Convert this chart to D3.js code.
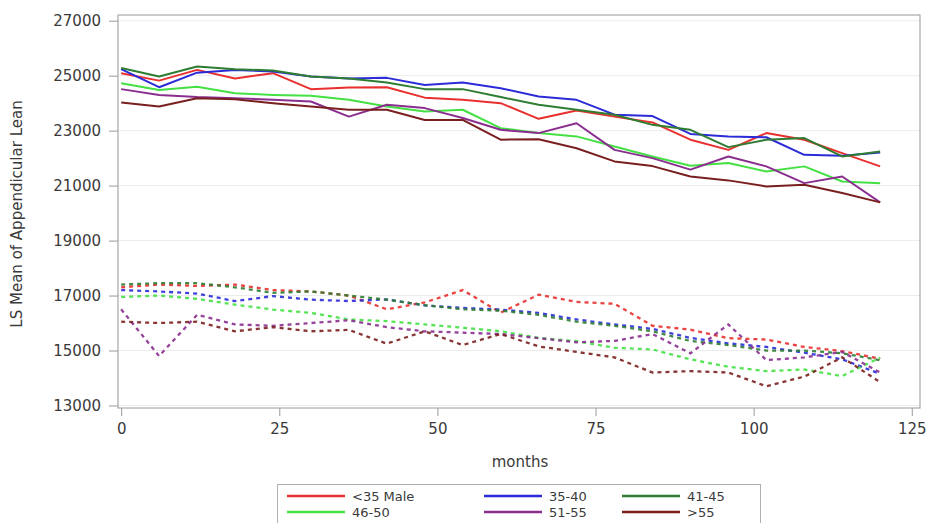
<!DOCTYPE html>
<html><head><meta charset="utf-8">
<script src="https://cdn.jsdelivr.net/npm/d3@7"></script>
<style>body{margin:0;background:#fff;} text{font-family:"DejaVu Sans",Arial,sans-serif;}</style>
</head><body><svg id="c" width="929" height="523"></svg>
<script>
const months = [0,6,12,18,24,30,36,42,48,54,60,66,72,78,84,90,96,102,108,114,120];
const groups = ["<35 Male","35-40","41-45","46-50","51-55",">55"];
const colors = ["#e8302e","#2b2bd8","#2e7d32","#44e044","#8a2f8f","#7a1f1f"];
// solid lines
const solid_lt35 = [25090,24820,25210,24900,25090,24510,24570,24580,24200,24120,24000,23430,23730,23510,23300,22670,22300,22910,22670,22180,21700];
const solid_35_40 = [25235,24580,25110,25210,25150,24970,24900,24920,24660,24750,24545,24240,24120,23580,23530,22880,22790,22760,22120,22085,22200];
const solid_41_45 = [25280,24970,25330,25235,25190,24970,24900,24750,24510,24510,24220,23940,23760,23580,23210,23030,22400,22670,22730,22060,22240];
const solid_46_50 = [24725,24480,24600,24360,24300,24270,24120,23880,23700,23760,23090,22910,22790,22420,22060,21720,21820,21515,21700,21150,21090];
const solid_51_55 = [24510,24300,24220,24180,24120,24060,23510,23940,23820,23460,23030,22910,23270,22300,22000,21580,22060,21700,21090,21330,20390];
const solid_gt55 = [24020,23880,24180,24140,24000,23880,23760,23760,23390,23390,22670,22690,22360,21880,21710,21330,21190,20970,21030,20730,20390];
// dashed lines
const dash_lt35 = [17300,17400,17350,17400,17200,17150,17000,16500,16750,17200,16380,17030,16770,16700,15900,15760,15450,15400,15130,14980,14700];
const dash_35_40 = [17200,17150,17070,16800,16980,16850,16800,16860,16640,16550,16490,16370,16130,15950,15790,15460,15260,15130,14920,14680,14150];
const dash_41_45 = [17400,17450,17450,17300,17100,17150,17000,16850,16650,16500,16450,16300,16050,15900,15700,15350,15200,15000,15000,14900,14650];
const dash_46_50 = [16950,17000,16880,16670,16490,16370,16130,16070,15950,15830,15700,15460,15340,15100,15040,14680,14410,14250,14310,14070,14740];
const dash_51_55 = [16500,14800,16300,15950,15900,16000,16100,15850,15700,15650,15600,15450,15300,15350,15600,14900,15950,14650,14750,14950,14200];
const dash_gt55 = [16050,16000,16050,15700,15850,15700,15750,15250,15700,15200,15600,15150,14950,14750,14200,14250,14200,13700,14050,14750,13850];
const yTicks = [13000,15000,17000,19000,21000,23000,25000,27000];
const xTicks = [0,25,50,75,100,125];

const solids = [solid_lt35,solid_35_40,solid_41_45,solid_46_50,solid_51_55,solid_gt55];
const dashes = [dash_lt35,dash_35_40,dash_41_45,dash_46_50,dash_51_55,dash_gt55];

const svg = d3.select("#c");
const L=118,R=920,T=15,B=408;
const x = d3.scaleLinear().domain([-0.5,126.3]).range([L,R]);
const y = d3.scaleLinear().domain([12909,27207]).range([B,T]);

// gridlines
svg.append("g").selectAll("line").data(yTicks).join("line")
  .attr("x1",L).attr("x2",R).attr("y1",d=>y(d)).attr("y2",d=>y(d))
  .attr("stroke","#ececec").attr("stroke-width",1);

// axes
const ya = svg.append("g").attr("transform",`translate(${L},0)`)
  .call(d3.axisLeft(y).tickValues(yTicks).tickFormat(d3.format("d")).tickSize(9).tickPadding(8));
const xa = svg.append("g").attr("transform",`translate(0,${B})`)
  .call(d3.axisBottom(x).tickValues(xTicks).tickSize(8).tickPadding(7));
[ya,xa].forEach(a=>{
  a.select(".domain").remove();
  a.selectAll(".tick line").attr("stroke","#9a9a9a");
  a.selectAll(".tick text").attr("fill","#3a3a3a").style("font-size","15px")
    .style("font-family","'DejaVu Sans',Arial,sans-serif");
});

// lines
const line = d3.line().x((d,i)=>x(months[i])).y(d=>y(d));
const plot = svg.append("g");
dashes.forEach((s,i)=>{
  plot.append("path").attr("d",line(s)).attr("fill","none").attr("stroke",colors[i])
    .attr("stroke-width",2.3).attr("stroke-dasharray","4,4").attr("opacity",0.9);
});
solids.forEach((s,i)=>{
  plot.append("path").attr("d",line(s)).attr("fill","none").attr("stroke",colors[i])
    .attr("stroke-width",2).attr("stroke-linejoin","round");
});

// frame
svg.append("rect").attr("x",L).attr("y",T).attr("width",R-L).attr("height",B-T)
  .attr("fill","none").attr("stroke","#a8a8a8").attr("stroke-width",1.2);

// axis titles
svg.append("text").attr("transform",`translate(22,214) rotate(-90)`)
  .attr("text-anchor","middle").attr("fill","#3a3a3a").style("font-size","15px")
  .text("LS Mean of Appendicular Lean");
svg.append("text").attr("x",520).attr("y",467).attr("text-anchor","middle")
  .attr("fill","#3a3a3a").style("font-size","15px").text("months");

// legend
const lg = svg.append("g");
lg.append("rect").attr("x",277.5).attr("y",484.5).attr("width",483).attr("height",40)
  .attr("fill","none").attr("stroke","#b0b0b0");
const colX = [287,484,622];
const rowY = [496,512];
groups.forEach((g,i)=>{
  const cx = colX[i%3], cy = rowY[Math.floor(i/3)];
  lg.append("line").attr("x1",cx).attr("x2",cx+58).attr("y1",cy).attr("y2",cy)
    .attr("stroke",colors[i]).attr("stroke-width",2.5);
  lg.append("text").attr("x",cx+65).attr("y",cy+4.5).attr("fill","#3a3a3a")
    .style("font-size","13px").text(g);
});
</script></body></html>
